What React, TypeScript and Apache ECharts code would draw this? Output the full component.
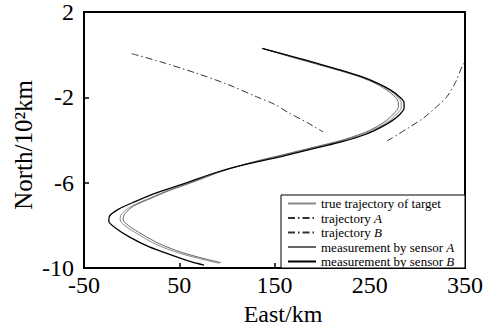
import React, { useEffect, useRef } from "react";
import * as echarts from "echarts";

const xRange = [-50, 350];
const xStep = 100;
const yRange = [-10, 2];
const yStep = 4;
const xName = "East/km";
const yName = "North/10²km";

const seriesNames = [
  "true trajectory of target",
  "trajectory A",
  "trajectory B",
  "measurement by sensor A",
  "measurement by sensor B",
];
const legendLabels = [
  "true trajectory of target",
  "trajectory {i|A}",
  "trajectory {i|B}",
  "measurement by sensor {i|A}",
  "measurement by sensor {i|B}",
];

const trueTrajectory: [number, number][] = [
  [138, 0.28], [170, -0.12], [194, -0.42], [220, -0.75], [240, -1.03], [258, -1.35],
  [271, -1.68], [279, -1.98], [283, -2.25], [283, -2.48], [279, -2.75], [272, -3.05],
  [260, -3.38], [245, -3.7], [220, -4.05], [194, -4.33], [160, -4.7], [124, -5.08],
  [95, -5.45], [61, -6.0], [35, -6.42], [15, -6.8], [-2, -7.15], [-11, -7.5],
  [-12, -7.75], [-6, -8.05], [8, -8.45], [26, -8.9], [50, -9.3], [75, -9.6], [92, -9.78],
];

const sensorA: [number, number][] = [
  [139, 0.27], [170, -0.14], [194, -0.44], [220, -0.77], [240, -1.05], [257, -1.37],
  [269, -1.7], [277, -2.0], [280, -2.25], [280, -2.47], [276, -2.73], [269, -3.03],
  [258, -3.36], [243, -3.68], [219, -4.03], [194, -4.31], [160, -4.68], [125, -5.06],
  [97, -5.43], [64, -5.98], [39, -6.38], [19, -6.76], [2, -7.1], [-7, -7.45],
  [-9, -7.72], [-3, -8.02], [11, -8.42], [29, -8.86], [52, -9.26], [77, -9.57], [94, -9.75],
];

const sensorB: [number, number][] = [
  [137, 0.3], [170, -0.1], [194, -0.4], [220, -0.73], [240, -1.01], [258, -1.33],
  [272, -1.66], [281, -1.97], [286, -2.25], [286, -2.5], [282, -2.78], [274, -3.08],
  [262, -3.4], [246, -3.73], [221, -4.08], [194, -4.37], [160, -4.74], [122, -5.12],
  [90, -5.5], [55, -6.05], [26, -6.48], [3, -6.9], [-14, -7.25], [-23, -7.55],
  [-24, -7.8], [-17, -8.12], [-2, -8.55], [18, -9.0], [42, -9.4], [62, -9.7], [76, -9.86],
];

const trajectoryA: [number, number][] = [
  [0, 0.05], [30, -0.33], [68, -0.87], [100, -1.38], [131, -1.97], [150, -2.33],
  [166, -2.75], [185, -3.2], [201, -3.62],
];

const trajectoryB: [number, number][] = [
  [268, -4.05], [290, -3.45], [306, -2.98], [320, -2.45], [331, -1.97], [340, -1.3],
  [347, -0.55], [350, -0.35],
];

const FONT = "'Liberation Serif', 'Times New Roman', serif";

export default function App() {
  const ref = useRef<HTMLDivElement>(null);
  useEffect(() => {
    if (!ref.current) return;
    const chart = echarts.init(ref.current, undefined, { renderer: "svg" });
    const dashDot = [7, 3, 1.5, 3];
    const mk = (name: string, data: [number, number][], color: string, width: number, type: any, z: number) => ({
      name,
      type: "line",
      data,
      symbol: "none",
      smooth: 0.3,
      z,
      lineStyle: { color, width, type },
      itemStyle: { color },
    });
    chart.setOption({
      animation: false,
      backgroundColor: "#fff",
      textStyle: { fontFamily: FONT },
      grid: {
        left: 84, top: 12, width: 381, height: 256,
        show: true, borderColor: "#000", borderWidth: 2, backgroundColor: "transparent",
      },
      xAxis: {
        type: "value",
        min: xRange[0], max: xRange[1], interval: xStep,
        splitLine: { show: false },
        axisLine: { show: true, onZero: false, lineStyle: { color: "#000", width: 2 } },
        axisTick: { show: true, inside: true, length: 5, lineStyle: { color: "#000", width: 1.5 } },
        axisLabel: { fontFamily: FONT, fontSize: 24, color: "#000", margin: 5 },
      },
      yAxis: {
        type: "value",
        min: yRange[0], max: yRange[1], interval: yStep,
        splitLine: { show: false },
        axisLine: { show: true, onZero: false, lineStyle: { color: "#000", width: 2 } },
        axisTick: { show: true, inside: true, length: 5, lineStyle: { color: "#000", width: 1.5 } },
        axisLabel: { fontFamily: FONT, fontSize: 24, color: "#000", margin: 10 },
      },
      legend: {
        orient: "vertical",
        left: 287,
        top: 197,
        itemWidth: 28,
        itemHeight: 12,
        itemGap: 1.5,
        padding: 0,
        z: 10,
        data: seriesNames,
        itemStyle: { opacity: 0 },
        formatter: (n: string) => legendLabels[seriesNames.indexOf(n)],
        textStyle: {
          fontFamily: FONT, fontSize: 13, color: "#000", lineHeight: 13,
          rich: { i: { fontFamily: FONT, fontSize: 13, fontStyle: "italic", color: "#000", lineHeight: 13 } },
        },
      },
      graphic: [
        {
          type: "rect",
          z: 5,
          shape: { x: 281, y: 195, width: 184, height: 73 },
          style: { fill: "#fff", stroke: "#000", lineWidth: 1 },
        },
        {
          type: "text",
          x: 283,
          y: 314,
          z: 10,
          style: {
            text: xName, fontFamily: FONT, fontSize: 24, fill: "#000",
            align: "center", verticalAlign: "middle", textAlign: "center", textVerticalAlign: "middle",
          },
        },
        {
          type: "text",
          x: 23,
          y: 145,
          rotation: Math.PI / 2,
          z: 10,
          style: {
            text: yName, fontFamily: FONT, fontSize: 25, fill: "#000",
            align: "center", verticalAlign: "middle", textAlign: "center", textVerticalAlign: "middle",
          },
        },
      ],
      series: [
        mk(seriesNames[0], trueTrajectory, "#8a8a8a", 1, "solid", 2),
        mk(seriesNames[1], trajectoryA, "#333", 1, dashDot, 2),
        mk(seriesNames[2], trajectoryB, "#333", 1, dashDot, 2),
        mk(seriesNames[3], sensorA, "#666", 1, "solid", 2),
        mk(seriesNames[4], sensorB, "#000", 1.3, "solid", 3),
      ],
    });
    return () => chart.dispose();
  }, []);
  return <div ref={ref} style={{ position: "fixed", left: 0, top: 0, width: 487, height: 328 }} />;
}
